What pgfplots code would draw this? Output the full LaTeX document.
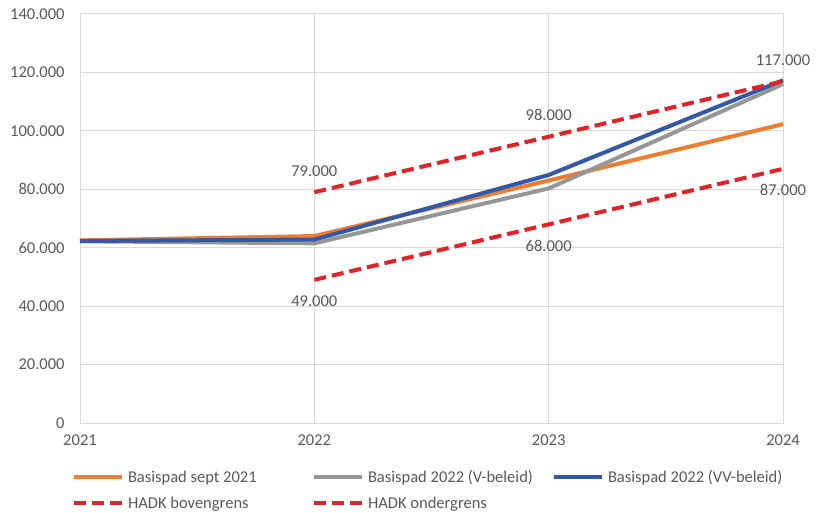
\documentclass[border=0pt]{standalone}
\usepackage{pgfplots}
\pgfplotsset{compat=1.18}
\usepackage{fontspec}
\setmainfont{Carlito}
\definecolor{cOrange}{RGB}{237,125,49}
\definecolor{cGray}{RGB}{150,150,150}
\definecolor{cBlue}{RGB}{52,88,168}
\definecolor{cRed}{RGB}{226,34,38}
\definecolor{cGrid}{RGB}{217,217,217}
\definecolor{cText}{RGB}{89,89,89}
\begin{document}
\begin{tikzpicture}[font=\fontsize{12.4}{14.8}\selectfont]
\begin{axis}[
  at={(0,0)}, anchor=south west,
  scale only axis, width=527.25pt, height=306.75pt,
  xmin=2021, xmax=2024, ymin=0, ymax=140000,
  xtick={2021,2022,2023,2024},
  xticklabels={2021,2022,2023,2024},
  ytick={0,20000,40000,60000,80000,100000,120000,140000},
  yticklabels={0,20.000,40.000,60.000,80.000,100.000,120.000,140.000},
  scaled y ticks=false,
  major tick length=0pt,
  grid=major,
  major grid style={draw=cGrid, line width=0.75pt},
  axis line style={draw=cGrid, line width=0.75pt},
  tick label style={text=cText},
  yticklabel style={xshift=-8pt},
  xticklabel style={yshift=-5pt},
  clip=false,
  legend columns=3,
  legend image code/.code={\draw[#1] (0pt,0pt) -- (36pt,0pt);},
  legend style={at={(0,0)}, anchor=north west, xshift=-6pt, yshift=-34.5pt,
    draw=none, fill=none, inner sep=0pt, outer sep=0pt, column sep=0pt, row sep=7.6pt,
    nodes={inner sep=0pt, text=cText}, cells={anchor=west}},
  nodes near coords style={text=cText, anchor=center},
]
\addplot[cOrange, line width=3pt] coordinates {(2021,62500) (2022,64000) (2023,83000) (2024,102300)};
\addlegendentry{\makebox[141pt][l]{\hspace{3pt}\strut Basispad sept 2021}}
\addplot[cGray, line width=3pt] coordinates {(2021,62200) (2022,61500) (2023,80300) (2024,116000)};
\addlegendentry{\makebox[141pt][l]{\hspace{3pt}\strut Basispad 2022 (V-beleid)}}
\addplot[cBlue, line width=3pt] coordinates {(2021,62300) (2022,62800) (2023,84900) (2024,117300)};
\addlegendentry{\makebox[141pt][l]{\hspace{3pt}\strut Basispad 2022 (VV-beleid)}}
\addplot[cRed, line width=3pt, dash pattern=on 9pt off 4.5pt,
  nodes near coords, point meta=explicit symbolic,
  every node near coord/.append style={yshift=16pt}]
  coordinates {(2022,79000)[79.000] (2023,98000)[98.000] (2024,117000)[117.000]};
\addlegendentry{\makebox[141pt][l]{\hspace{3pt}\strut HADK bovengrens}}
\addplot[cRed, line width=3pt, dash pattern=on 9pt off 4.5pt,
  nodes near coords, point meta=explicit symbolic,
  every node near coord/.append style={yshift=-16pt}]
  coordinates {(2022,49000)[49.000] (2023,68000)[68.000] (2024,87000)[87.000]};
\addlegendentry{\makebox[141pt][l]{\hspace{3pt}\strut HADK ondergrens}}
\end{axis}
\pgfresetboundingbox
\path[use as bounding box] (-60pt,-67.5pt) rectangle (557.25pt,317.25pt);
\end{tikzpicture}
\end{document}
